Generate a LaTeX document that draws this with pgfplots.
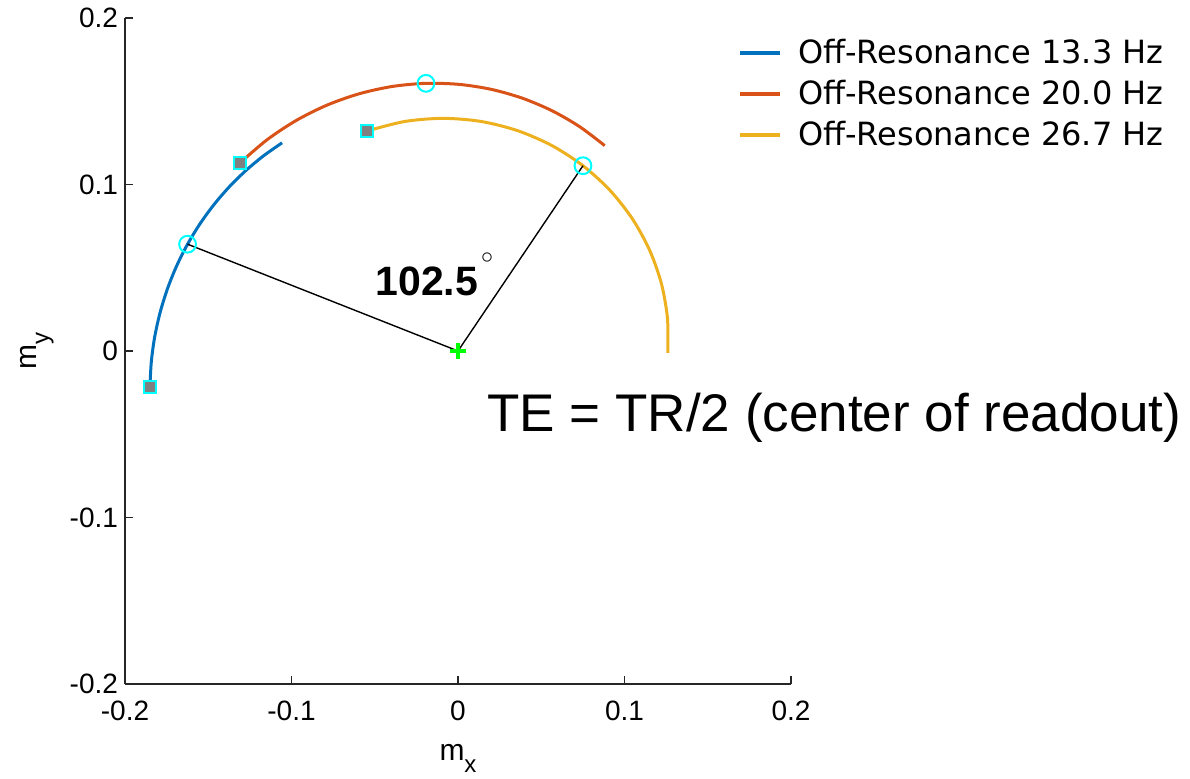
\documentclass[border=0pt]{standalone}
\usepackage{pgfplots}
\pgfplotsset{compat=1.18}
\usepackage{fontspec}
\setmainfont{Liberation Sans}
\newfontfamily\dejavu{DejaVu Sans}

\definecolor{mblue}{rgb}{0,0.447,0.741}
\definecolor{morange}{rgb}{0.850,0.325,0.098}
\definecolor{myellow}{rgb}{0.929,0.694,0.125}
\definecolor{axgray}{rgb}{0.15,0.15,0.15}
\definecolor{mgray}{rgb}{0.5,0.5,0.5}
\definecolor{mcyan}{rgb}{0,1,1}
\definecolor{mgreen}{rgb}{0,1,0}

\begin{document}
\begin{tikzpicture}
\useasboundingbox (-62.5pt,-47.5pt) rectangle (532.5pt,342pt);
\begin{axis}[
  at={(0,0)}, anchor=south west,
  scale only axis, width=333pt, height=333pt,
  xmin=-0.2, xmax=0.2, ymin=-0.2, ymax=0.2,
  axis lines*=left,
  axis line style={axgray, line width=0.8pt},
  xtick={-0.2,-0.1,0,0.1,0.2},
  ytick={-0.2,-0.1,0,0.1,0.2},
  xticklabels={-0.2,-0.1,0,0.1,0.2},
  yticklabels={-0.2,-0.1,0,0.1,0.2},
  tick style={axgray, line width=0.8pt},
  tick align=inside, major tick length=4pt,
  ticklabel style={font=\fontsize{14}{16}\selectfont, text=black},
  xticklabel style={yshift=-4.8pt},
  yticklabel style={xshift=0pt},
  xlabel={m\raisebox{-6pt}{\fontsize{12}{12}\selectfont x}},
  ylabel={m\raisebox{-6pt}{\fontsize{12}{12}\selectfont y}},
  label style={font=\fontsize{15}{17}\selectfont, inner sep=0pt},
  xlabel style={at={(axis description cs:0.5,-0.112)}, anchor=center},
  ylabel style={at={(axis description cs:-0.132,0.5)}, anchor=center},
  clip=false,
  legend cell align=left,
  legend image code/.code={\draw[#1, line width=2pt] (0pt,0pt) -- (20pt,0pt);},
  legend style={at={(0.92,0.975)}, anchor=north west, draw=none, fill=none,
    font=\dejavu\fontsize{16}{19}\selectfont, inner sep=0pt,
    row sep=3pt, column sep=6pt},
]
% magnetisation trajectories during the readout
\addplot[mblue, line width=1.5pt, smooth] coordinates {
  (-0.18503,-0.02174) (-0.18419,-0.00641) (-0.18213,0.00864)
  (-0.17886,0.02331) (-0.17445,0.03750) (-0.16896,0.05115)
  (-0.16242,0.06414) (-0.15493,0.07643) (-0.14655,0.08794)
  (-0.13735,0.09860) (-0.12741,0.10837) (-0.11682,0.11719)
  (-0.10566,0.12503)};
\addlegendentry{Off-Resonance 13.3 Hz}
\addplot[morange, line width=1.5pt, smooth] coordinates {
  (-0.13089,0.11298) (-0.11474,0.12682) (-0.09720,0.13843)
  (-0.07858,0.14771) (-0.05917,0.15454) (-0.03929,0.15890)
  (-0.01924,0.16075) (0.00066,0.16013) (0.02013,0.15711)
  (0.03886,0.15176) (0.05660,0.14424) (0.07310,0.13470)
  (0.08814,0.12334)};
\addlegendentry{Off-Resonance 20.0 Hz}
\addplot[myellow, line width=1.5pt, smooth] coordinates {
  (-0.05472,0.13211) (-0.03203,0.13783) (-0.00895,0.13973)
  (0.01388,0.13785) (0.03587,0.13231) (0.05644,0.12337)
  (0.07506,0.11128) (0.09129,0.09648) (0.10473,0.07940)
  (0.11509,0.06055) (0.12216,0.04048) (0.12580,0.01974)
  (0.12599,-0.00110)};
\addlegendentry{Off-Resonance 26.7 Hz}

% phase difference between the echo points
\addplot[black, line width=0.7pt, forget plot] coordinates {
  (-0.16242,0.06414) (0,0) (0.07506,0.11128)};

% start of readout
\addplot[only marks, mark=square*, mark size=2.9pt, forget plot,
  mark options={fill=mgray, draw=mcyan, line width=0.9pt}] coordinates {
  (-0.18503,-0.02174) (-0.13089,0.11298) (-0.05472,0.13211)};
% echo time
\addplot[only marks, mark=o, mark size=4.2pt, forget plot,
  mark options={draw=mcyan, line width=1pt}] coordinates {
  (-0.16242,0.06414) (-0.01924,0.16075) (0.07506,0.11128)};
% origin
\addplot[only marks, mark=+, mark size=3.8pt, forget plot,
  mark options={draw=mgreen, line width=1.6pt}] coordinates {(0,0)};

\node[anchor=base west, inner sep=0pt, font=\fontsize{20.5}{24}\selectfont\bfseries]
  at (axis cs:-0.0498,0.0336)
  {102.5\hspace{1.5pt}\raisebox{16pt}{\fontsize{12}{12}\selectfont$\circ$}};
\node[anchor=base west, inner sep=0pt, font=\fontsize{26.5}{30}\selectfont]
  at (axis cs:0.0174,-0.0486) {TE = TR/2 (center of readout)};
\end{axis}
\end{tikzpicture}
\end{document}
